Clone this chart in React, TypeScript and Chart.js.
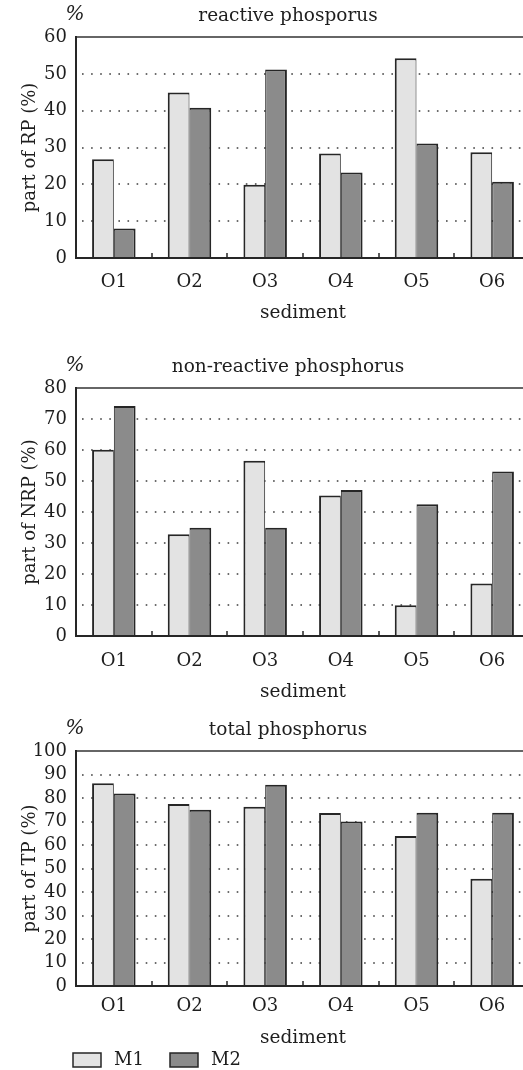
import React, { useEffect, useRef } from "react";
import { Chart, registerables } from "chart.js";

Chart.register(...registerables);

// ---------- data ----------
const categories = ["O1", "O2", "O3", "O4", "O5", "O6"];
const seriesNames = ["M1", "M2"];

const rpM1 = [26.8, 44.9, 19.9, 28.4, 54.2, 28.7];
const rpM2 = [8.0, 40.8, 51.2, 23.2, 31.1, 20.7];

const nrpM1 = [60.1, 32.8, 56.5, 45.3, 9.9, 16.9];
const nrpM2 = [74.2, 34.9, 34.9, 47.1, 42.5, 53.1];

const tpM1 = [86.3, 77.4, 76.3, 73.6, 63.8, 45.6];
const tpM2 = [81.9, 75.0, 85.6, 70.0, 73.7, 73.7];

const panelTitles = ["reactive phosporus", "non-reactive phosphorus", "total phosphorus"];
const yTitles = ["part of RP (%)", "part of NRP (%)", "part of TP (%)"];
const yMaxes = [60, 80, 100];
const xTitle = "sediment";
const unitLabel = "%";

const FONT = '"DejaVu Serif", "Liberation Serif", serif';
const TEXT = "#1e1e1e";
const M1_COLOR = "#e3e3e3";
const M2_COLOR = "#8b8b8b";
const EDGE = "#262626";

type Panel = {
  title: string;
  yTitle: string;
  m1: number[];
  m2: number[];
  yMax: number;
  top: number;
  height: number;
  padTop: number;
  xHeight: number;
  tickPad: number;
  xTitleDy: number;
  legend: boolean;
};

const panels: Panel[] = [
  { title: panelTitles[0], yTitle: yTitles[0], m1: rpM1, m2: rpM2, yMax: yMaxes[0], top: 0, height: 330, padTop: 37, xHeight: 72, tickPad: 14, xTitleDy: 55, legend: false },
  { title: panelTitles[1], yTitle: yTitles[1], m1: nrpM1, m2: nrpM2, yMax: yMaxes[1], top: 330, height: 370, padTop: 58, xHeight: 64, tickPad: 15, xTitleDy: 56, legend: false },
  { title: panelTitles[2], yTitle: yTitles[2], m1: tpM1, m2: tpM2, yMax: yMaxes[2], top: 700, height: 370, padTop: 51, xHeight: 84, tickPad: 10, xTitleDy: 52, legend: true },
];

const decor = {
  id: "decor",
  beforeDatasetsDraw(chart: any, _args: any, opts: any) {
    const { ctx, chartArea: a, scales } = chart;
    const y = scales.y;
    ctx.save();
    ctx.strokeStyle = "#3c3c3c";
    ctx.lineWidth = 1.6;
    ctx.setLineDash([1.6, 7.5]);
    y.ticks.forEach((t: any) => {
      if (t.value <= y.min || t.value >= y.max) return;
      const py = Math.round(y.getPixelForValue(t.value));
      ctx.beginPath();
      ctx.moveTo(a.left + 6, py);
      ctx.lineTo(a.right, py);
      ctx.stroke();
    });
    ctx.restore();
  },
  afterDatasetsDraw(chart: any, _args: any, opts: any) {
    const { ctx, chartArea: a, scales } = chart;
    const x = scales.x;
    ctx.save();
    // top frame line
    ctx.strokeStyle = "#333";
    ctx.lineWidth = 1.6;
    ctx.beginPath();
    ctx.moveTo(a.left, a.top);
    ctx.lineTo(a.right, a.top);
    ctx.stroke();
    // axes
    ctx.strokeStyle = EDGE;
    ctx.lineWidth = 2;
    ctx.beginPath();
    ctx.moveTo(a.left, a.top - 1);
    ctx.lineTo(a.left, a.bottom + 1);
    ctx.moveTo(a.left - 1, a.bottom);
    ctx.lineTo(a.right, a.bottom);
    ctx.stroke();
    // category boundary ticks
    ctx.lineWidth = 1.5;
    const n = chart.data.labels.length;
    for (let i = 0; i < n - 1; i++) {
      const bx = Math.round((x.getPixelForValue(i) + x.getPixelForValue(i + 1)) / 2);
      ctx.beginPath();
      ctx.moveTo(bx, a.bottom);
      ctx.lineTo(bx, a.bottom - 5);
      ctx.stroke();
    }
    // texts
    ctx.fillStyle = TEXT;
    ctx.textBaseline = "middle";
    ctx.textAlign = "center";
    ctx.font = `18.5px ${FONT}`;
    ctx.fillText(opts.title, 288, a.top - 21);
    ctx.font = `italic 20px ${FONT}`;
    ctx.fillText(unitLabel, 75, a.top - 22);
    ctx.font = `18.5px ${FONT}`;
    ctx.fillText(xTitle, (a.left + a.right) / 2, a.bottom + opts.xTitleDy);
    ctx.save();
    ctx.translate(30, (a.top + a.bottom) / 2);
    ctx.rotate(-Math.PI / 2);
    ctx.font = `18px ${FONT}`;
    ctx.fillText(opts.yTitle, 0, 0);
    ctx.restore();
    if (opts.legend) {
      const ly = a.bottom + 74;
      const starts = [73, 170];
      chart.data.datasets.forEach((ds: any, i: number) => {
        const bx = starts[i];
        ctx.fillStyle = ds.backgroundColor;
        ctx.fillRect(bx, ly - 7, 28, 14);
        ctx.strokeStyle = EDGE;
        ctx.lineWidth = 1.5;
        ctx.strokeRect(bx, ly - 7, 28, 14);
        ctx.fillStyle = TEXT;
        ctx.textAlign = "left";
        ctx.font = `18px ${FONT}`;
        ctx.fillText(ds.label, bx + 41, ly);
      });
    }
    ctx.restore();
  },
};

function PanelChart({ p }: { p: Panel }) {
  const ref = useRef<HTMLCanvasElement | null>(null);
  useEffect(() => {
    if (!ref.current) return;
    const chart = new Chart(ref.current, {
      type: "bar",
      data: {
        labels: categories,
        datasets: [
          {
            label: seriesNames[0],
            data: p.m1,
            backgroundColor: M1_COLOR,
            borderColor: EDGE,
            borderWidth: { left: 2, top: 2, right: 1, bottom: 0 },
            borderSkipped: false,
            categoryPercentage: 0.575,
            barPercentage: 1,
          },
          {
            label: seriesNames[1],
            data: p.m2,
            backgroundColor: M2_COLOR,
            borderColor: EDGE,
            borderWidth: { left: 1, top: 2, right: 2, bottom: 0 },
            borderSkipped: false,
            categoryPercentage: 0.575,
            barPercentage: 1,
          },
        ],
      },
      options: {
        responsive: false,
        animation: false,
        devicePixelRatio: 1,
        layout: { padding: { top: p.padTop, right: 0, left: 0, bottom: 0 } },
        plugins: {
          legend: { display: false },
          tooltip: { enabled: false },
          title: { display: false },
          decor: { title: p.title, yTitle: p.yTitle, xTitleDy: p.xTitleDy, legend: p.legend },
        } as any,
        scales: {
          x: {
            grid: { display: false, drawTicks: false },
            border: { display: false },
            ticks: { font: { family: FONT, size: 18 }, color: TEXT, padding: p.tickPad, maxRotation: 0, autoSkip: false },
            afterFit: (s: any) => {
              s.height = p.xHeight;
            },
          },
          y: {
            min: 0,
            max: p.yMax,
            grid: { display: false, drawTicks: false },
            border: { display: false },
            ticks: { stepSize: 10, font: { family: FONT, size: 18 }, color: TEXT, padding: 9, autoSkip: false },
            afterFit: (s: any) => {
              s.width = 76;
            },
          },
        },
      },
      plugins: [decor as any],
    });
    return () => chart.destroy();
  }, [p]);
  return (
    <canvas
      ref={ref}
      width={530}
      height={p.height}
      style={{ position: "absolute", left: 0, top: p.top, width: 530, height: p.height, display: "block" }}
    />
  );
}

export default function App() {
  return (
    <div
      style={{
        position: "absolute",
        left: 0,
        top: 0,
        width: 523,
        height: 1070,
        overflow: "hidden",
        background: "#fff",
      }}
    >
      {panels.map((p, i) => (
        <PanelChart key={i} p={p} />
      ))}
    </div>
  );
}
